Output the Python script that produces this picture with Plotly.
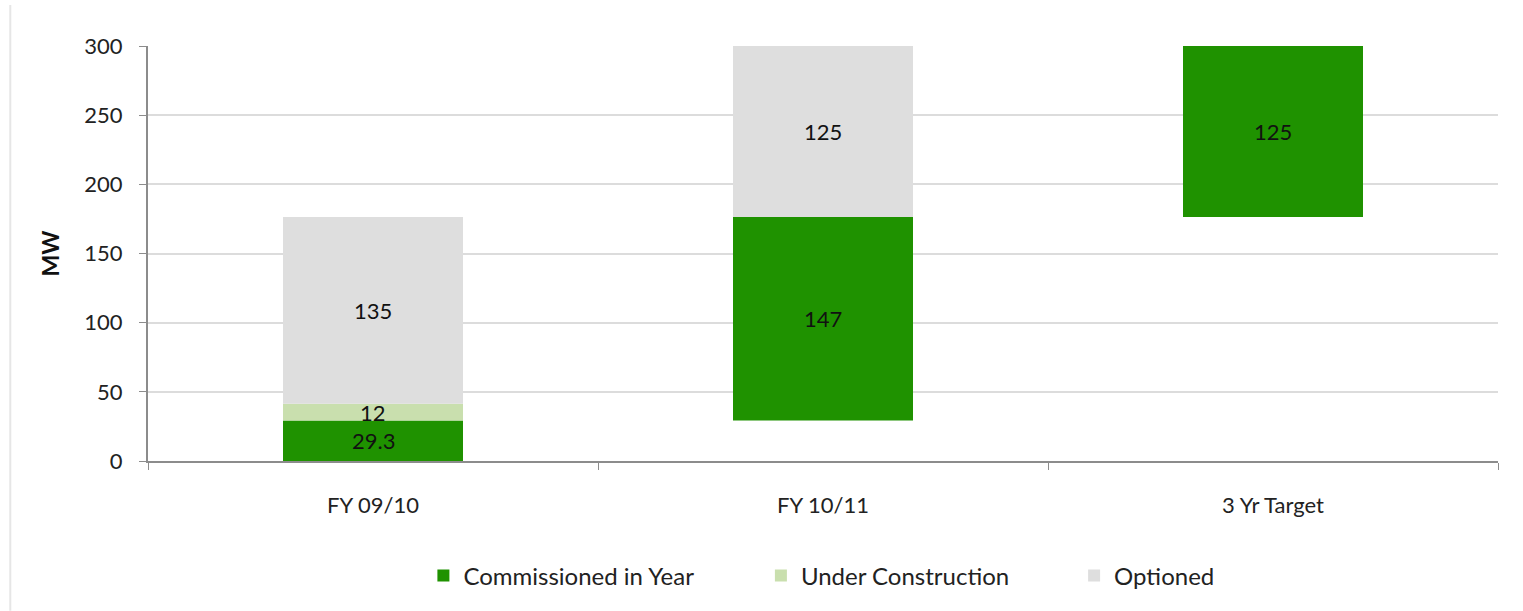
import plotly.graph_objects as go

categories = ["FY 09/10", "FY 10/11", "3 Yr Target"]
offset = [0, 29.3, 176.3]          # floating start of each column
commissioned = [29.3, 147, 125]
under_construction = [12, None, None]
optioned = [135, 125, None]

GREEN = "#1f9200"
LIGHT_GREEN = "#c9dfae"
GREY = "#dedede"
FONT = "Lato"
YMAX = 300

series = [
    ("Commissioned in Year", commissioned, GREEN, "legend", 0.204),
    ("Under Construction", under_construction, LIGHT_GREEN, "legend2", 0.459),
    ("Optioned", optioned, GREY, "legend3", 0.686),
]

fig = go.Figure()
annotations = []
running = list(offset)
for name, values, color, leg, _ in series:
    bases = [running[i] if v is not None else None for i, v in enumerate(values)]
    fig.add_bar(x=categories, y=values, base=bases, name=name, legend=leg,
                showlegend=True,
                marker=dict(color=color, line=dict(width=0)), width=0.4)
    for i, v in enumerate(values):
        if v is None:
            continue
        top = min(running[i] + v, YMAX)
        annotations.append(dict(x=categories[i], y=(running[i] + top) / 2,
                                text=str(v), showarrow=False,
                                font=dict(family=FONT, size=22, color="#111")))
        running[i] += v

legend_common = dict(orientation="h", xanchor="left", y=-0.277,
                     yanchor="middle", font=dict(family=FONT, size=24,
                                                 color="#222"),
                     itemwidth=30, bgcolor="rgba(0,0,0,0)")

fig.update_layout(
    barmode="overlay",
    showlegend=True,
    width=1523, height=611,
    margin=dict(l=148, r=25, t=46, b=150),
    plot_bgcolor="white", paper_bgcolor="white",
    font=dict(family=FONT, size=22, color="#222"),
    annotations=annotations,
    legend=dict(x=series[0][4], **legend_common),
    legend2=dict(x=series[1][4] - 0.005, **legend_common),
    legend3=dict(x=series[2][4], **legend_common),
    yaxis=dict(range=[0, YMAX], dtick=50, showgrid=True, gridcolor="#dcdcdc",
               gridwidth=1.5, showline=True, linecolor="#8c8c8c", linewidth=2,
               ticks="outside", ticklen=7, tickcolor="#8c8c8c", zeroline=False,
               ticklabelstandoff=12,
               title=dict(text="<b>MW</b>", font=dict(family=FONT, size=23,
                                                      color="#111"),
                          standoff=18)),
    xaxis=dict(showline=True, linecolor="#8c8c8c", linewidth=2,
               ticks="outside", ticklen=7, tickcolor="#8c8c8c",
               tickson="boundaries", ticklabelstandoff=24),
    shapes=[dict(type="line", xref="paper", yref="paper",
                 x0=-0.102, x1=-0.102, y0=-0.361, y1=1.099,
                 line=dict(color="#e6e6e6", width=2))],
)

fig.write_html("out.html")
